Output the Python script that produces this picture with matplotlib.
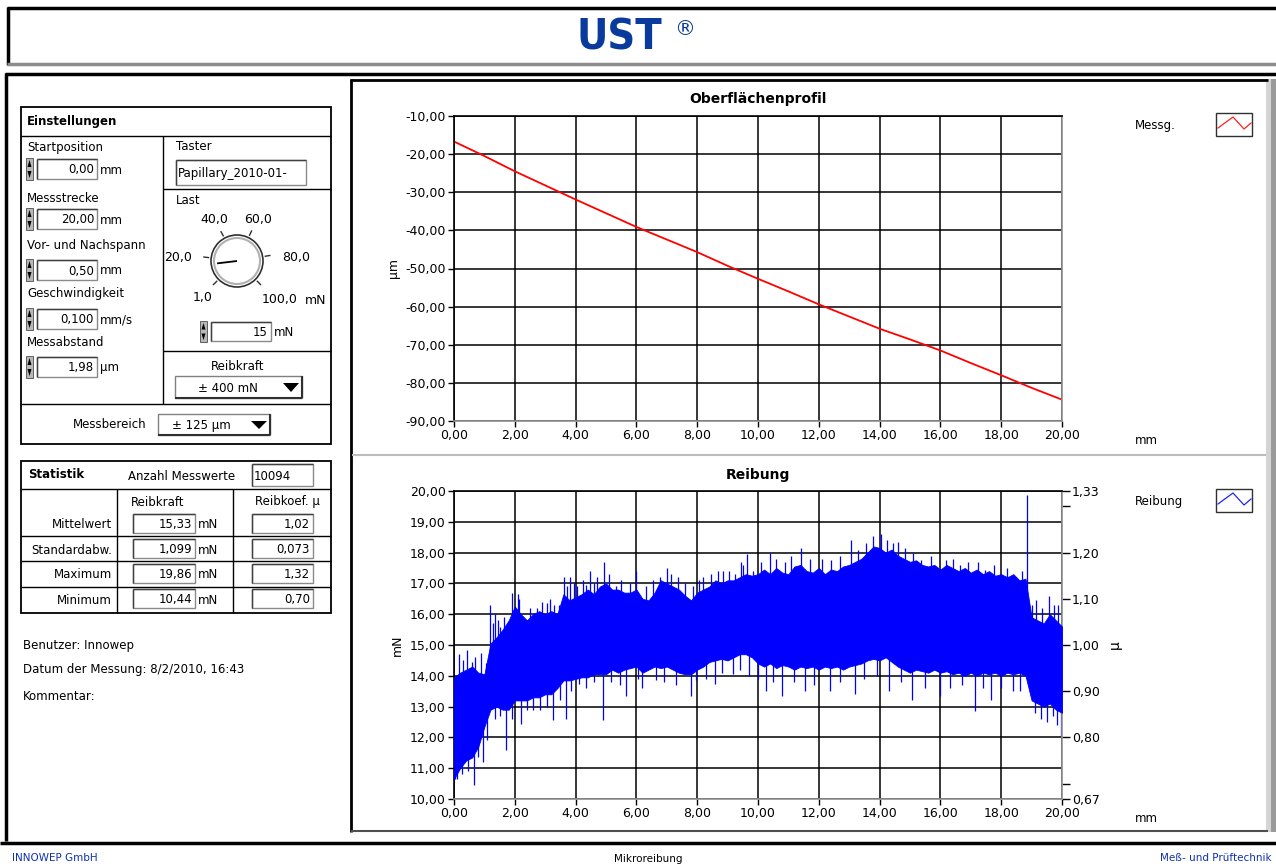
"""UST Mikroreibung report: profile and friction charts"""
import numpy as np
import matplotlib
matplotlib.use('Agg')
import matplotlib.pyplot as plt
from matplotlib.patches import Rectangle, Circle, Polygon
from matplotlib.ticker import FuncFormatter, FixedLocator

plt.rcParams['font.family'] = 'DejaVu Sans'
plt.rcParams['axes.unicode_minus'] = False

W, H = 1276, 868
#%% Data read from the report

# Oberflächenprofil (mm, µm)
profile_x = [0, 1, 2, 3, 4, 5, 6, 7, 8, 9, 10, 11, 12, 13, 14, 15, 16, 17, 18, 19, 20]
profile_um = [-16.7, -20.5, -24.5, -28.2, -31.9, -35.5, -39.1, -42.4, -45.7, -49.3, -52.7,
              -56.0, -59.4, -62.6, -65.8, -68.6, -71.5, -74.8, -78.0, -81.3, -84.4]

# Reibung: dense band of the signal, every 0.2 mm (mN)
band_x = [round(0.2 * i, 1) for i in range(101)]
band_hi = [13.95, 14.1, 14.2, 14.3, 14.1, 14.05, 15.05, 15.25, 15.5, 15.8,
           16.25, 16.0, 15.8, 16.0, 16.1, 16.0, 16.1, 16.0, 16.65, 16.45,
           16.55, 16.65, 16.8, 16.65, 16.9, 17.0, 16.8, 16.8, 16.7, 16.7,
           16.8, 16.5, 16.45, 16.7, 17.1, 17.0, 16.9, 16.8, 16.6, 16.45,
           16.7, 16.8, 16.9, 17.1, 17.0, 17.1, 17.1, 17.2, 17.3, 17.25,
           17.3, 17.45, 17.3, 17.5, 17.35, 17.3, 17.55, 17.6, 17.4, 17.35,
           17.5, 17.3, 17.45, 17.4, 17.55, 17.6, 17.7, 17.8, 18.0, 18.2,
           18.15, 18.0, 18.1, 17.9, 17.8, 17.7, 17.75, 17.6, 17.55, 17.6,
           17.45, 17.6, 17.5, 17.4, 17.5, 17.35, 17.45, 17.3, 17.4, 17.25,
           17.3, 17.2, 17.3, 17.1, 17.15, 15.9, 15.8, 15.7, 16.0, 15.8, 15.6]
band_lo = [10.65, 11.0, 11.25, 11.35, 11.7, 12.35, 12.9, 13.0, 12.9, 12.9,
           13.2, 13.2, 13.2, 13.3, 13.3, 13.4, 13.4, 13.6, 13.85, 13.85,
           13.9, 13.95, 13.95, 14.05, 14.05, 14.05, 14.2, 14.1, 14.2, 14.25,
           14.3, 14.1, 14.2, 14.3, 14.25, 14.3, 14.2, 14.1, 14.05, 14.05,
           14.2, 14.3, 14.45, 14.5, 14.55, 14.5, 14.6, 14.7, 14.7, 14.6,
           14.4, 14.3, 14.4, 14.25, 14.35, 14.3, 14.2, 14.3, 14.25, 14.3,
           14.2, 14.3, 14.25, 14.3, 14.2, 14.3, 14.35, 14.4, 14.5, 14.55,
           14.5, 14.6, 14.45, 14.3, 14.2, 14.1, 14.2, 14.15, 14.1, 14.2,
           14.1, 14.15, 14.05, 14.1, 14.0, 14.1, 14.0, 14.1, 14.05, 14.1,
           14.0, 14.1, 14.05, 14.1, 14.0, 13.2, 13.1, 13.0, 13.1, 12.9, 12.8]

# Reibung: single peaks sticking out of the band (mm, mN)
spike_x = [0.18, 0.43, 0.59, 0.88, 1.18, 1.36, 1.5, 1.76, 1.9, 2.09, 2.3, 2.73, 3.05, 3.3,
           3.61, 3.81, 4.06, 4.33, 4.46, 4.6, 4.94, 5.32, 5.99, 6.76, 7.0, 7.37, 8.2, 8.86,
           9.25, 9.43, 9.63, 9.85, 10.4, 11.1, 11.4, 12.4, 13.05, 13.77, 14.03, 14.6, 14.85,
           15.35, 16.17, 16.66, 17.48, 17.98, 18.47, 18.86, 19.13, 19.56, 19.88,
           0.3, 0.7, 1.05, 1.28, 1.45, 1.65, 2.15, 2.5, 2.9, 3.15, 3.45, 3.72, 3.95, 4.25,
           4.7, 5.1, 5.5, 5.8, 6.3, 6.55, 7.15, 7.6, 7.85, 8.05, 8.45, 8.7, 9.05, 9.5, 10.1,
           10.6, 10.9, 11.7, 12.1, 12.7, 13.3, 13.55, 14.25, 14.45, 15.1, 15.7, 16.4, 16.9,
           17.25, 17.75, 18.2, 18.7, 19.0, 19.35, 19.75,
           0.02, 0.11, 0.67, 0.8, 0.94, 1.5, 1.71, 2.22, 2.83, 3.26, 3.67, 4.12, 4.6, 4.9,
           5.65, 6.18, 6.65, 7.78, 7.97, 8.58, 9.17, 9.69, 10.25, 10.8, 11.56, 12.38, 13.2,
           14.3, 15.08, 16.0, 17.15, 17.65, 18.63, 19.3, 19.7, 19.97,
           0.25, 0.45, 1.1, 1.35, 1.9, 2.4, 2.6, 3.05, 3.5, 3.85, 4.35, 5.15, 5.45, 6.05,
           6.9, 7.3, 8.3, 8.8, 9.4, 10.0, 10.5, 11.2, 11.85, 12.7, 13.5, 13.9, 14.7, 15.5,
           16.3, 16.7, 17.4, 18.0, 18.4, 19.1, 19.5, 19.85]
spike_f = [14.7, 14.85, 14.45, 14.75, 16.3, 16.0, 15.6, 15.5, 16.7, 16.65, 15.8, 16.2, 16.35,
           16.3, 17.2, 17.2, 16.9, 16.95, 17.4, 17.0, 17.7, 16.9, 17.4, 17.2, 17.5, 17.2, 17.2,
           17.4, 17.3, 17.7, 17.95, 17.4, 18.0, 17.9, 18.15, 17.75, 18.4, 18.55, 18.6, 18.35,
           18.15, 17.75, 17.75, 17.6, 17.45, 17.3, 17.1, 19.86, 16.45, 16.6, 16.3,
           14.5, 14.6, 14.4, 15.7, 15.8, 15.9, 16.5, 16.2, 16.4, 16.5, 16.3, 16.9, 17.0, 17.1,
           17.2, 17.3, 17.1, 17.0, 16.9, 17.1, 17.3, 17.0, 16.9, 17.1, 17.3, 17.4, 17.4, 17.6,
           17.7, 17.8, 17.7, 17.8, 17.8, 17.9, 18.1, 18.3, 18.4, 18.3, 18.0, 17.9, 17.8, 17.7,
           17.7, 17.6, 17.5, 17.4, 16.3, 16.2, 16.3,
           10.65, 10.65, 10.44, 11.35, 11.2, 12.7, 11.6, 12.45, 12.9, 12.55, 12.6, 13.75, 13.8,
           12.55, 13.35, 13.6, 13.85, 13.35, 13.85, 13.75, 14.05, 14.0, 13.5, 13.35, 13.5,
           13.5, 13.4, 13.5, 13.2, 13.35, 12.85, 13.2, 13.5, 12.6, 12.7, 12.05,
           10.8, 10.9, 11.9, 12.6, 12.6, 12.9, 12.9, 13.0, 13.2, 13.5, 13.6, 13.8, 13.7, 13.9,
           13.8, 13.7, 13.9, 14.1, 14.2, 13.9, 13.8, 13.8, 13.7, 13.8, 13.9, 14.0, 13.8, 13.6,
           13.6, 13.7, 13.6, 13.6, 13.5, 12.8, 12.5, 12.4]

LOAD = 15  # mN, Last
x_ticks = [0, 2, 4, 6, 8, 10, 12, 14, 16, 18, 20]
mu_ticks = [10 / LOAD, 0.7, 0.8, 0.9, 1.0, 1.1, 1.2, 1.3, 20 / LOAD]
mu_labels = ['0,67', '', '0,80', '0,90', '1,00', '1,10', '1,20', '', '1,33']

settings = [('Startposition', '0,00', 'mm'), ('Messstrecke', '20,00', 'mm'),
            ('Vor- und Nachspann', '0,50', 'mm'), ('Geschwindigkeit', '0,100', 'mm/s'),
            ('Messabstand', '1,98', 'µm')]
stat_rows = ['Mittelwert', 'Standardabw.', 'Maximum', 'Minimum']
stat_force = ['15,33', '1,099', '19,86', '10,44']
stat_mu = ['1,02', '0,073', '1,32', '0,70']

#%% Page layout
fig = plt.figure(figsize=(W / 100, H / 100), dpi=100)
fig.patch.set_facecolor('white')
bg = fig.add_axes([0, 0, 1, 1], zorder=0)
bg.set_xlim(0, W)
bg.set_ylim(H, 0)
bg.axis('off')


def line(x0, y0, x1, y1, c='black', lw=1.0):
    bg.plot([x0, x1], [y0, y1], color=c, lw=lw, solid_capstyle='butt')


def box(x0, y0, x1, y1, ec='black', fc='none', lw=1.0):
    bg.add_patch(Rectangle((x0, y0), x1 - x0, y1 - y0, ec=ec, fc=fc, lw=lw))


def txt(x, y, s, size=8.5, ha='left', va='center', **kw):
    bg.text(x, y, s, fontsize=size, ha=ha, va=va, **kw)


def field(x0, y0, x1, y1, value, align='right'):
    box(x0, y0, x1, y1, ec='#8a8a8a', fc='white', lw=1.0)
    line(x0, y0, x1, y0, '#404040', 1.0)
    line(x0, y0, x0, y1, '#404040', 1.0)
    if align == 'right':
        txt(x1 - 3, (y0 + y1) / 2 + 1, value, ha='right')
    else:
        txt(x0 + 2, (y0 + y1) / 2 + 1, value)


def spinner(x0, y0, y1):
    box(x0, y0, x0 + 7, y1, ec='#606060', fc='#b8b8b8', lw=0.7)
    m = (y0 + y1) / 2
    bg.add_patch(Polygon([[x0 + 1.5, m - 2], [x0 + 5.5, m - 2], [x0 + 3.5, y0 + 2]], fc='black'))
    bg.add_patch(Polygon([[x0 + 1.5, m + 2], [x0 + 5.5, m + 2], [x0 + 3.5, y1 - 2]], fc='black'))


def dropdown(x0, y0, x1, y1, value, tx):
    box(x0, y0, x1, y1, ec='#808080', fc='white', lw=1.0)
    line(x0, y1, x1, y1, '#303030', 1.5)
    line(x1, y0, x1, y1, '#303030', 1.5)
    txt(tx, (y0 + y1) / 2 + 1, value)
    bg.add_patch(Polygon([[x1 - 19, y0 + 7], [x1 - 3, y0 + 7], [x1 - 11, y1 - 6]], fc='black'))


# header
line(7, 8, W, 8, lw=2.5)
line(8, 7, 8, 65, lw=2.5)
line(7, 64, W, 64, '#8c8c8c', lw=2.5)
txt(619, 37, 'UST', size=31, ha='center', color='#0a3a9c', weight='bold', fontstretch='condensed')
txt(685, 29, '®', size=15, ha='center', color='#0a3a9c')

# main frame
line(5, 74, W, 74, lw=2.5)
line(6, 73, 6, 841, lw=2.5)
line(0, 843, W, 843, lw=2.5)
line(350, 80, 1268, 80, lw=2.0)
line(351, 79, 351, 832, lw=2.0)
line(351, 831, 1268, 831, '#505050', lw=1.5)
box(1266, 79, 1271, 832, ec='none', fc='#d4d4d4')
box(1271, 79, W, 832, ec='none', fc='#9a9a9a')
line(352, 455, 1266, 455, '#bdbdbd', lw=1.5)

# Einstellungen
box(21, 107, 331, 444, lw=1.3)
line(21, 136, 331, 136)
line(163, 136, 163, 404)
line(163, 189, 331, 189)
line(163, 351, 331, 351)
line(21, 404, 331, 404)
txt(27, 122, 'Einstellungen', size=8.5, weight='bold')
label_y = [148, 198, 246, 293, 342]
box_y = [159, 209, 260, 309, 357]
for (name, value, unit), ly, by in zip(settings, label_y, box_y):
    txt(27, ly, name)
    spinner(26, by - 1, by + 21)
    field(37, by, 97, by + 20, value)
    txt(100, by + 11, unit)
txt(176, 147, 'Taster')
field(176, 160, 306, 185, 'Papillary_2010-01-', align='left')
txt(176, 200, 'Last')

# Last dial
cx, cy, r = 237, 261, 26
bg.add_patch(Circle((cx, cy), r, fc='white', ec='#303030', lw=1.2))
bg.add_patch(Circle((cx, cy), r - 3, fc='none', ec='#b0b0b0', lw=1.5))
dial_vals = [1, 20, 40, 60, 80, 100]
for v in dial_vals:
    a = np.radians(225 - (v - 1) / 99 * 270)
    line(cx + (r + 2) * np.cos(a), cy - (r + 2) * np.sin(a),
         cx + (r + 8) * np.cos(a), cy - (r + 8) * np.sin(a), '#303030', 1.0)
a = np.radians(225 - (LOAD - 1) / 99 * 270)
line(cx, cy, cx + 20 * np.cos(a), cy - 20 * np.sin(a), 'black', 1.3)
txt(214, 219, '40,0', ha='center', size=9)
txt(258, 219, '60,0', ha='center', size=9)
txt(192, 258, '20,0', ha='right', size=9)
txt(282, 257, '80,0', size=9)
txt(203, 297, '1,0', ha='center', size=9)
txt(280, 300, '100,0', ha='center', size=9)
txt(305, 300, 'mN', size=9)
spinner(200, 321, 342)
field(211, 322, 271, 341, str(LOAD))
txt(274, 332, 'mN')
txt(238, 366, 'Reibkraft', ha='center')
dropdown(175, 376, 302, 398, '± 400 mN', 198)
txt(147, 425, 'Messbereich', ha='right')
dropdown(158, 414, 270, 435, '± 125 µm', 172)

# Statistik
box(21, 461, 331, 613, lw=1.3)
line(21, 489, 331, 489)
line(117, 489, 117, 613)
line(233, 489, 233, 613)
for yy in [536, 561, 587]:
    line(21, yy, 331, yy)
txt(28, 475, 'Statistik', weight='bold')
txt(128, 476, 'Anzahl Messwerte')
field(252, 464, 313, 486, '10094', align='left')
txt(158, 502, 'Reibkraft', ha='center')
txt(287, 502, 'Reibkoef. µ', ha='center')
row_y = [524, 549, 574, 599]
for name, f, m, yy in zip(stat_rows, stat_force, stat_mu, row_y):
    txt(112, yy + 1, name, ha='right')
    field(133, yy - 10, 195, yy + 9, f)
    txt(198, yy + 1, 'mN')
    field(252, yy - 10, 313, yy + 9, m)

txt(23, 645, 'Benutzer: Innowep')
txt(23, 669, 'Datum der Messung: 8/2/2010, 16:43')
txt(23, 696, 'Kommentar:')

# footer
txt(12, 858, 'INNOWEP GmbH', size=7.5, color='#1030b0')
txt(648, 859, 'Mikroreibung', size=7.5, ha='center')
txt(1272, 858, 'Meß- und Prüftechnik', size=7.5, ha='right', color='#1030b0')

# legends
for y0, name, col in [(113, 'Messg.', '#ff2020'), (489, 'Reibung', '#2020ff')]:
    txt(1135, y0 + 12, name)
    box(1216, y0, 1252, y0 + 23, ec='#303030', fc='white', lw=1.0)
    bg.plot([1218, 1233, 1244, 1251], [y0 + 15, y0 + 4, y0 + 16, y0 + 10], color=col, lw=0.9)

#%% Charts


def px_rect(x0, y0, x1, y1):
    return [x0 / W, 1 - y1 / H, (x1 - x0) / W, (y1 - y0) / H]


comma2 = FuncFormatter(lambda v, p: f'{v:.2f}'.replace('.', ','))


def style(ax, title, ylabel, ylim, yticks):
    ax.set_xlim(0, 20)
    ax.set_ylim(*ylim)
    ax.set_xticks(x_ticks)
    ax.set_yticks(yticks)
    ax.xaxis.set_major_formatter(comma2)
    ax.yaxis.set_major_formatter(comma2)
    ax.grid(True, color='black', lw=1.1)
    ax.set_axisbelow(True)
    ax.tick_params(labelsize=9, length=4, width=1, pad=2)
    for sp in ax.spines.values():
        sp.set_linewidth(1.2)
    ax.spines['right'].set_color('#909090')
    ax.spines['bottom'].set_color('#909090')
    ax.set_title(title, fontsize=10, weight='bold', pad=9)
    ax.set_ylabel(ylabel, fontsize=9, labelpad=4)


ax1 = fig.add_axes(px_rect(454, 116, 1062, 421), zorder=2)
ax1.plot(profile_x, profile_um, color='#ff0000', lw=1.3)
style(ax1, 'Oberflächenprofil', 'µm', (-90, -10), list(range(-90, 0, 10)))
bg.text(1135, 441, 'mm', fontsize=8.5, va='center')

ax2 = fig.add_axes(px_rect(454, 491, 1062, 799), zorder=2)
spike_base = np.interp(spike_x, band_x, (np.array(band_lo) + np.array(band_hi)) / 2)
ax2.vlines(spike_x, spike_base, spike_f, color='#0000ff', lw=0.9, zorder=2)
ax2.fill_between(band_x, band_lo, band_hi, color='#0000ff', lw=0.6, edgecolor='#0000ff',
                 zorder=3)
style(ax2, 'Reibung', 'mN', (10, 20), list(range(10, 21)))
bg.text(1135, 818, 'mm', fontsize=8.5, va='center')

mu_ax = ax2.secondary_yaxis('right', functions=(lambda f: f / LOAD, lambda m: m * LOAD))
mu_ax.yaxis.set_major_locator(FixedLocator(mu_ticks))
mu_ax.set_yticklabels(mu_labels)
mu_ax.tick_params(labelsize=9, length=6, width=1, pad=1)
mu_ax.spines['right'].set_visible(False)
mu_ax.set_ylabel('µ', fontsize=10, rotation=90, labelpad=6)

fig.savefig('out.png', dpi=100)
